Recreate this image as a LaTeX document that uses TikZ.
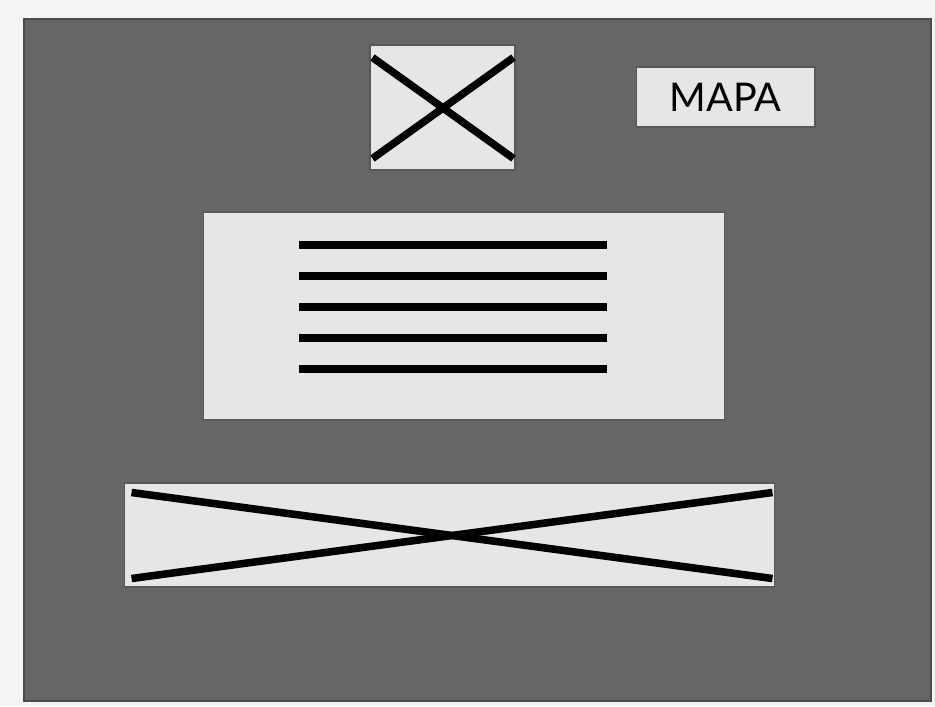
\documentclass[tikz,border=0pt]{standalone}
\usepackage{fontspec}
\newfontfamily\WFmapafont{Lato}
\definecolor{WFpage}{HTML}{F4F4F4}
\definecolor{WFdark}{HTML}{666666}
\definecolor{WFlight}{HTML}{E6E6E6}
\tikzset{WFbox/.style={draw=black!65,fill=WFlight,line width=0.6pt,inner sep=0pt},
         WFbar/.style={line width=4.6pt},
         WFcross/.style={line width=4.3pt},
         WFlab/.style={font=\WFmapafont\fontsize{22.5}{26}\selectfont}}
\begin{document}
\begin{tikzpicture}[x=0.02cm,y=-0.02cm]
  % page and screen
  \fill[WFpage] (0,0) rectangle (935,706);
  \useasboundingbox (0,0) rectangle (935,706);
  \draw[fill=WFdark,draw=black!70,line width=0.8pt] (24,19) rectangle (931,701);
  % image placeholder
  \node[WFbox,minimum width=2.9cm,minimum height=2.5cm] (img) at (442.5,107.5) {};
  \draw[WFcross] ([shift={(3,13)}]img.north west) -- ([shift={(-2,-12)}]img.south east);
  \draw[WFcross] ([shift={(3,-12)}]img.south west) -- ([shift={(-2,13)}]img.north east);
  % map button
  \node[WFbox,minimum width=3.58cm,minimum height=1.2cm,WFlab] (mapa) at (725.5,97) {MAPA};
  % text block
  \node[WFbox,minimum width=10.44cm,minimum height=4.16cm] (txt) at (464,316) {};
  \foreach \i in {0,...,4}
    \draw[WFbar] (299,245+31*\i) -- (607,245+31*\i);
  % banner placeholder
  \node[WFbox,minimum width=13.02cm,minimum height=2.08cm] (ban) at (449.5,535) {};
  \draw[WFcross] ([shift={(8,10)}]ban.north west) -- ([shift={(-3,-9)}]ban.south east);
  \draw[WFcross] ([shift={(8,-9)}]ban.south west) -- ([shift={(-3,10)}]ban.north east);
\end{tikzpicture}
\end{document}
